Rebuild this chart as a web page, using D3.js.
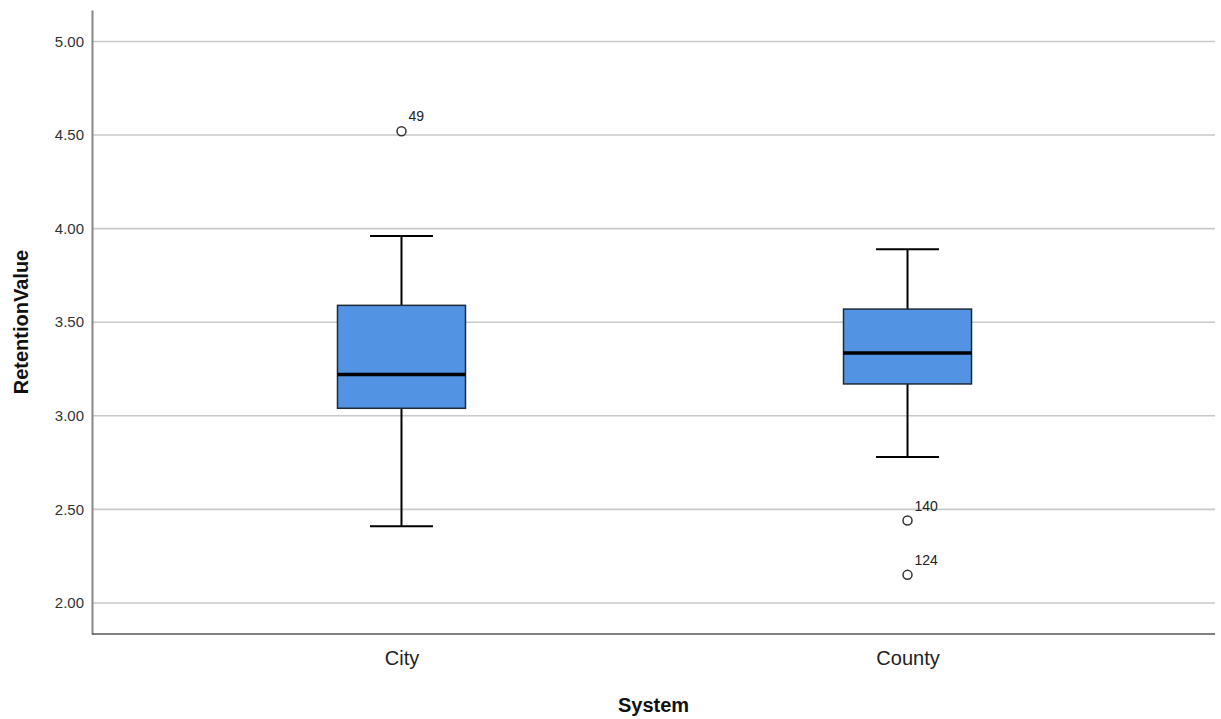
<!DOCTYPE html>
<html>
<head>
<meta charset="utf-8">
<script src="https://cdn.jsdelivr.net/npm/d3@7"></script>
<style>
  body { margin: 0; background: #fff; }
  text { font-family: "Liberation Sans", Arial, sans-serif; }
</style>
</head>
<body>
<svg id="chart"></svg>
<script>
// groups and five-number summaries
const groups = ['City', 'County']
const whiskerLow = [2.41, 2.78]
const quart1 = [3.04, 3.17]
const medians = [3.22, 3.335]
const quart3 = [3.59, 3.57]
const whiskerHigh = [3.96, 3.89]

// outliers: group, value, case label
const outlierGroup = ['City', 'County', 'County']
const outlierValue = [4.52, 2.44, 2.15]
const outlierLabel = ['49', '140', '124']

const yTicks = [2.0, 2.5, 3.0, 3.5, 4.0, 4.5, 5.0]

const width = 1221, height = 719
const margin = { left: 92, right: 6, top: 10, bottom: 85 }

const svg = d3.select('#chart').attr('width', width).attr('height', height)

const x = d3.scalePoint().domain(groups)
  .range([margin.left, width - margin.right + 2]).padding(0.6116)
const y = d3.scaleLinear().domain([1.834, 5.168])
  .range([height - margin.bottom, margin.top])

const boxW = 128, capW = 63

// gridlines
svg.append('g').selectAll('line').data(yTicks).join('line')
  .attr('x1', margin.left).attr('x2', width - margin.right)
  .attr('y1', d => y(d)).attr('y2', d => y(d))
  .attr('stroke', '#c9c9c9').attr('stroke-width', 1.6)

// y axis
const yAxis = svg.append('g').attr('transform', `translate(${margin.left},0)`)
  .call(d3.axisLeft(y).tickValues(yTicks).tickFormat(d3.format('.2f')).tickSize(0).tickPadding(8))
yAxis.select('.domain').attr('stroke', '#888').attr('stroke-width', 2)
yAxis.selectAll('text').attr('font-size', '15px').attr('fill', '#333')
  .attr('font-family', '"Liberation Sans", Arial, sans-serif')

// x axis
const xAxis = svg.append('g').attr('transform', `translate(0,${height - margin.bottom})`)
  .call(d3.axisBottom(x).tickSize(0).tickPadding(17))
xAxis.select('.domain').attr('stroke', '#555').attr('stroke-width', 1.5)
  .attr('d', `M${margin.left},0H${width - margin.right}`)
xAxis.selectAll('text').attr('font-size', '20px').attr('fill', '#222')
  .attr('font-family', '"Liberation Sans", Arial, sans-serif')

// boxes
const stats = groups.map((g, i) => ({
  g, lo: whiskerLow[i], q1: quart1[i], med: medians[i], q3: quart3[i], hi: whiskerHigh[i]
}))

const box = svg.append('g').selectAll('g').data(stats).join('g')

box.append('line').attr('x1', d => x(d.g)).attr('x2', d => x(d.g))
  .attr('y1', d => y(d.hi)).attr('y2', d => y(d.lo))
  .attr('stroke', '#000').attr('stroke-width', 2)
box.append('line').attr('x1', d => x(d.g) - capW / 2).attr('x2', d => x(d.g) + capW / 2)
  .attr('y1', d => y(d.hi)).attr('y2', d => y(d.hi))
  .attr('stroke', '#000').attr('stroke-width', 2)
box.append('line').attr('x1', d => x(d.g) - capW / 2).attr('x2', d => x(d.g) + capW / 2)
  .attr('y1', d => y(d.lo)).attr('y2', d => y(d.lo))
  .attr('stroke', '#000').attr('stroke-width', 2)
box.append('rect')
  .attr('x', d => x(d.g) - boxW / 2).attr('width', boxW)
  .attr('y', d => y(d.q3)).attr('height', d => y(d.q1) - y(d.q3))
  .attr('fill', '#5294e3').attr('stroke', '#1f2a38').attr('stroke-width', 1.5)
box.append('line').attr('x1', d => x(d.g) - boxW / 2).attr('x2', d => x(d.g) + boxW / 2)
  .attr('y1', d => y(d.med)).attr('y2', d => y(d.med))
  .attr('stroke', '#000').attr('stroke-width', 3.5)

// outliers
const outs = outlierValue.map((v, i) => ({ g: outlierGroup[i], v, label: outlierLabel[i] }))
const og = svg.append('g').selectAll('g').data(outs).join('g')
og.append('circle').attr('cx', d => x(d.g)).attr('cy', d => y(d.v)).attr('r', 4.5)
  .attr('fill', '#fff').attr('stroke', '#333').attr('stroke-width', 1.5)
og.append('text').attr('x', d => x(d.g) + 7).attr('y', d => y(d.v) - 10)
  .attr('font-size', '14px').attr('fill', '#222').text(d => d.label)

// axis titles
svg.append('text').attr('x', (margin.left + width - margin.right) / 2).attr('y', 712)
  .attr('text-anchor', 'middle').attr('font-size', '20px').attr('font-weight', 'bold')
  .attr('fill', '#111').text('System')
svg.append('text').attr('transform', `translate(28,${(margin.top + height - margin.bottom) / 2}) rotate(-90)`)
  .attr('text-anchor', 'middle').attr('font-size', '20px').attr('font-weight', 'bold')
  .attr('fill', '#111').text('RetentionValue')
</script>
</body>
</html>
